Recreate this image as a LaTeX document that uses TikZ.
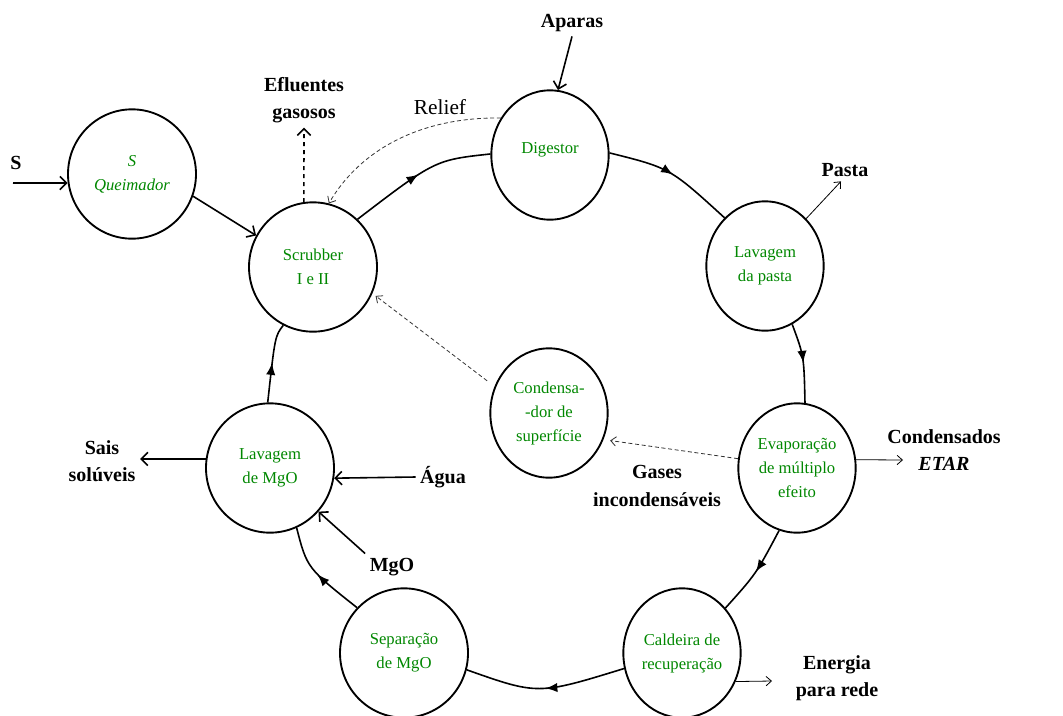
\documentclass[tikz,border=0pt]{standalone}
\usepackage{fontspec}
\setmainfont{Liberation Serif}
\usetikzlibrary{arrows.meta,shapes.geometric,decorations.markings}
\definecolor{procgreen}{RGB}{0,135,0}
\begin{document}
\begin{tikzpicture}[x=0.75pt,y=-0.75pt,
  unit/.style={draw, ellipse, line width=1.4pt, minimum width=88pt, minimum height=97pt,
    inner sep=0pt, align=center, text=procgreen, font=\rmfamily\fontsize{12.5}{18}\selectfont},
  wideunit/.style={unit, minimum width=96pt},
  stream/.style={align=center, font=\rmfamily\bfseries\fontsize{15}{20.5}\selectfont},
  cycleflow/.style={line width=1.2pt, postaction={decorate},
    decoration={markings, mark=at position .5 with {\arrow{Latex[length=9pt,width=7pt]}}}},
  feed/.style={line width=1.2pt, -{Straight Barb[length=5pt,width=10pt]}},
  product/.style={line width=0.6pt, -{Straight Barb[length=4pt,width=7pt]}},
  gasline/.style={line width=0.6pt, dash pattern=on 3pt off 2pt, black!80,
    -{Straight Barb[length=4pt,width=7pt]}}]
\useasboundingbox (0,0) rectangle (1063,715);
% process units
\node[wideunit] (burner) at (132,174) {\itshape S\\\itshape Queimador};
\node[wideunit] (scrub) at (313,267) {Scrubber\\I e II};
\node[unit] (dig) at (550,155) {Digestor\\[-8pt]\mbox{}};
\node[unit] (wash) at (765,266) {Lavagem\\da pasta};
\node[unit] (evap) at (797,468) {Evaporação\\de múltiplo\\efeito};
\node[unit] (boiler) at (682,653) {Caldeira de\\recuperação};
\node[wideunit] (sep) at (404,653) {Separação\\de MgO};
\node[wideunit] (mgowash) at (270,468) {Lavagem\\de MgO};
\node[unit] (cond) at (549,413) {Condensa-\\-dor de\\superfície};
% streams
\node[stream] (sulf) at (16,163) {S};
\node[stream] (eflu) at (304,100) {Efluentes\\gasosos};
\node[stream] (apar) at (572,23) {Aparas};
\node[stream] (pasta) at (845,170) {Pasta};
\node[stream] (conds) at (944,450) {Condensados\\\textit{ETAR}};
\node[stream] (energ) at (837,678) {Energia\\para rede};
\node[stream] (gases) at (657,486) {Gases\\incondensáveis};
\node[stream] (sais) at (102,461) {Sais\\solúveis};
\node[stream] (agua) at (443,477) {Água};
\node[stream] (mgo) at (392,567) {MgO};
\node[font=\rmfamily\fontsize{16}{18}\selectfont] (relief) at (440,107) {Relief};
\coordinate (sfeed) at (13,183);
\coordinate (condsout) at (903,460);
\coordinate (energout) at (772,681);
% main cycle
\draw[cycleflow] (scrub.47) .. controls (435,160) .. (dig.179);
\draw[cycleflow] (dig.2) .. controls (670,168) .. (wash.130);
\draw[cycleflow] (wash.-65) .. controls (804,356) .. (evap.83);
\draw[cycleflow] (evap.-106) .. controls (756,574) .. (boiler.46);
\draw[cycleflow] (boiler.195) .. controls (538,695) .. (sep.-15);
\draw[cycleflow] (sep.136) .. controls (307,568) .. (mgowash.-66);
\draw[cycleflow] (mgowash.92) .. controls (275,336) .. (scrub.-117);
% inputs and outputs
\draw[feed] (sfeed) -- (burner.188);
\draw[feed] (burner.-20) -- (scrub.151);
\draw[feed, dashed] (scrub.98) -- (eflu.south);
\draw[feed] (apar.south) -- (dig.83);
\draw[product] (wash.49) -- ([xshift=-3pt]pasta.south);
\draw[product] (evap.8) -- (condsout);
\draw[product] (boiler.-28) -- (energout);
\draw[feed] (mgowash.172) -- (mgowash.172 -| sais.east);
\draw[feed] (agua.west) -- (mgowash.-9);
\draw[feed] (mgo.north west) -- (mgowash.-42);
% gas lines
\draw[gasline] (dig.143) .. controls (420,117) and (360,150) .. (scrub.76);
\draw[gasline, shorten <=7pt, shorten >=3pt] (cond.154) -- (scrub.-24);
\draw[gasline, shorten >=5pt] (evap.171) -- (cond.-26);
\end{tikzpicture}
\end{document}
